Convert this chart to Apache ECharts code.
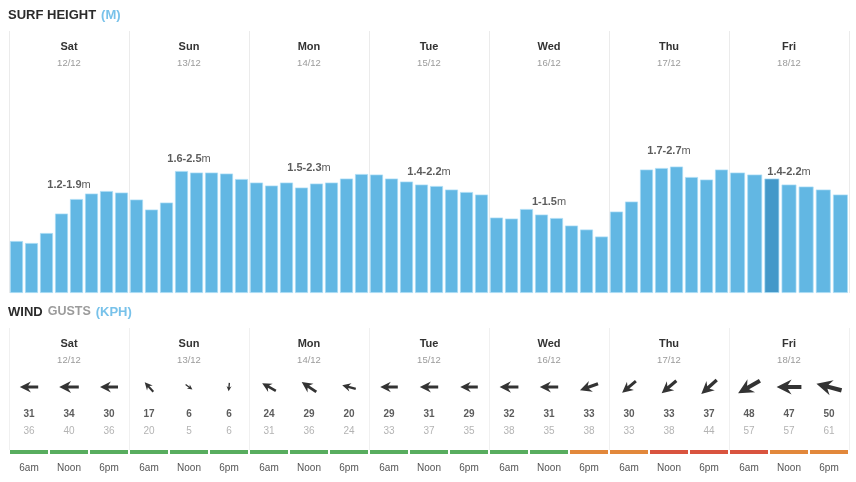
<!DOCTYPE html>
<html><head><meta charset="utf-8">
<script src="https://cdn.jsdelivr.net/npm/echarts@6/dist/echarts.min.js"></script>
<style>html,body{margin:0;padding:0;background:#fff}#c{width:856px;height:482px}</style>
</head><body><div id="c"></div>
<script>
// ---------- data ----------
const days  = ['Sat','Sun','Mon','Tue','Wed','Thu','Fri'];
const dates = ['12/12','13/12','14/12','15/12','16/12','17/12','18/12'];
// surf height (m), 3-hourly
const surfSat = [1.04,1.00,1.20,1.59,1.88,1.99,2.04,2.01];
const surfSun = [1.87,1.67,1.81,2.44,2.41,2.41,2.39,2.28];
const surfMon = [2.21,2.15,2.21,2.11,2.19,2.21,2.29,2.38];
const surfTue = [2.37,2.29,2.23,2.17,2.14,2.07,2.02,1.97];
const surfWed = [1.51,1.49,1.68,1.57,1.50,1.35,1.27,1.13];
const surfThu = [1.63,1.83,2.47,2.50,2.53,2.32,2.27,2.47];
const surfFri = [2.41,2.37,2.29,2.17,2.13,2.07,1.97];
const surfByDay = [surfSat,surfSun,surfMon,surfTue,surfWed,surfThu,surfFri];
const surfHours = ['12am','3am','6am','9am','Noon','3pm','6pm','9pm'];
const currentBar = [6, 2];               // highlighted (now) bar: day, index
const rangeLow  = [1.2,1.6,1.5,1.4,1,1.7,1.4];
const rangeHigh = [1.9,2.5,2.3,2.2,1.5,2.7,2.2];
// wind (kph), 6am / Noon / 6pm for each day
const timeLabels = ['6am','Noon','6pm'];
const windSpeed = [31,34,30, 17,6,6, 24,29,20, 29,31,29, 32,31,33, 30,33,37, 48,47,50];
const windGust  = [36,40,36, 20,5,6, 31,36,24, 33,37,35, 38,35,38, 33,38,44, 57,57,61];
const windFrom  = [90,90,90, 138,306,5, 119,124,105, 90,90,90, 90,90,70, 50,50,48, 60,90,105]; // compass deg wind comes from
const windRating= ['g','g','g','g','g','g','g','g','g','g','g','g','g','g','o','o','r','r','r','o','o'];

// ---------- style ----------
const FONT = '"Liberation Sans", Arial, Helvetica, sans-serif';
const BAR = '#62b7e3', BAR_NOW = '#4398c9';
const ratingColor = {g:'#58ad5f', o:'#e2883b', r:'#d9543f'};
const ARROW = 'path://M0,5.8 L13,5.8 L9.5,0 L24,8 L9.5,16 L13,10.2 L0,10.2 Z';

const slots = [];
days.forEach(d => timeLabels.forEach(t => slots.push(d + ' ' + t)));
const slotTimes = slots.map((s, i) => timeLabels[i % 3]);

const grid = [], xAxis = [], yAxis = [], series = [];
const hidden = {show:false};

function headerAxis(gi, lineColor) {
  return {
    type:'category', gridIndex:gi, data:days, position:'top', boundaryGap:true,
    axisLine:hidden, axisTick:hidden,
    splitLine:{show:true, lineStyle:{color:lineColor, width:1}},
    axisLabel:{inside:true, margin:8, verticalAlign:'top', interval:0,
      formatter:(v,i)=>'{d|'+v+'}\n{s|'+dates[i]+'}',
      rich:{d:{fontFamily:FONT,fontSize:11,fontWeight:'bold',color:'#333',lineHeight:16},
            s:{fontFamily:FONT,fontSize:9.5,color:'#9b9b9b',lineHeight:16}}}
  };
}

// grid 0: surf header + range labels
grid.push({left:9, top:31, width:840, height:262});
xAxis.push(headerAxis(0, '#ebebeb'));
yAxis.push({type:'value', gridIndex:0, min:-0.626, max:5.495, show:false});
series.push({
  type:'scatter', xAxisIndex:0, yAxisIndex:0, symbolSize:1, itemStyle:{color:'transparent'},
  data: rangeHigh.map((h,i)=>[i,h]), silent:true, z:5,
  label:{show:true, position:'inside',
    formatter:p=>'{b|'+rangeLow[p.dataIndex]+'-'+rangeHigh[p.dataIndex]+'}{u|m}',
    rich:{b:{fontFamily:FONT,fontSize:11,fontWeight:'bold',color:'#333'},
          u:{fontFamily:FONT,fontSize:11,color:'#333'}}}
});

// grids 1..7: surf bars per day
surfByDay.forEach((vals, d) => {
  const gi = grid.length;
  grid.push({left:9 + 120*d, top:31, width:120, height:262});
  xAxis.push({type:'category', gridIndex:gi, data:surfHours.slice(0, vals.length), show:false});
  yAxis.push({type:'value', gridIndex:gi, min:0, max:5.24, show:false});
  series.push({
    type:'bar', xAxisIndex:gi, yAxisIndex:gi, barCategoryGap:'13%', silent:true,
    data: vals.map((v,i)=>({value:v, itemStyle:{color:(d===currentBar[0]&&i===currentBar[1])?BAR_NOW:BAR}})),
    itemStyle:{borderColor:'rgba(170,220,245,0.9)', borderWidth:0.8}
  });
});

// grid 8: wind header
let gi = grid.length;
grid.push({left:9, top:328, width:840, height:122});
xAxis.push(headerAxis(gi, '#f0f0f0'));
yAxis.push({type:'value', gridIndex:gi, show:false});

// grid 9: wind arrows
gi = grid.length;
grid.push({left:9, top:373, width:840, height:28});
xAxis.push({type:'category', gridIndex:gi, data:slots, show:false});
yAxis.push({type:'category', gridIndex:gi, data:['dir'], show:false});
series.push({
  type:'scatter', xAxisIndex:gi, yAxisIndex:gi, silent:true,
  data: windFrom.map((f,i)=>{
    const len = 6 + 0.4*windSpeed[i];
    return {value:[i,'dir'], symbol:ARROW, symbolSize:[len, len*0.6], symbolRotate: 90 - (f+180),
            itemStyle:{color:'#000'}};
  })
});

// grid 10: speed & gust numbers
gi = grid.length;
grid.push({left:9, top:406, width:840, height:34});
xAxis.push({type:'category', gridIndex:gi, data:slots, show:false});
yAxis.push({type:'category', gridIndex:gi, data:['speed','gust'], inverse:true, show:false});
[['speed', windSpeed, '#333', 'bold'], ['gust', windGust, '#a0a0a0', 'normal']].forEach(([row, arr, col, fw]) => {
  series.push({
    type:'scatter', xAxisIndex:gi, yAxisIndex:gi, symbolSize:1, itemStyle:{color:'transparent'}, silent:true,
    data: arr.map((v,i)=>[i,row,v]),
    label:{show:true, position:'inside', formatter:p=>String(p.value[2]),
      fontFamily:FONT, fontSize:10, fontWeight:fw, color:col}
  });
});

// grid 11: rating bars + time labels
gi = grid.length;
grid.push({left:9, top:450, width:840, height:4});
xAxis.push({type:'category', gridIndex:gi, data:slots, position:'bottom',
  axisLine:hidden, axisTick:hidden,
  axisLabel:{interval:0, margin:9, fontFamily:FONT, fontSize:10, color:'#555',
    formatter:(v,i)=>slotTimes[i]}});
yAxis.push({type:'value', gridIndex:gi, min:0, max:1, show:false});
series.push({
  type:'bar', xAxisIndex:gi, yAxisIndex:gi, barCategoryGap:'5%', silent:true,
  data: windRating.map(r=>({value:1, itemStyle:{color:ratingColor[r]}}))
});

const chart = echarts.init(document.getElementById('c'), null, {renderer:'canvas'});
chart.setOption({
  animation:false,
  backgroundColor:'#fff',
  title:[
    {text:'{a|SURF HEIGHT} {b|(M)}', left:8, top:6, padding:0,
     textStyle:{rich:{a:{fontFamily:FONT,fontSize:13,fontWeight:'bold',color:'#2b2b2b'},
                      b:{fontFamily:FONT,fontSize:13,color:'#78c2ea'}}}},
    {text:'{a|WIND} {g|GUSTS} {b|(KPH)}', left:8, top:303, padding:0,
     textStyle:{rich:{a:{fontFamily:FONT,fontSize:13,fontWeight:'bold',color:'#2b2b2b'},
                      g:{fontFamily:FONT,fontSize:12.5,color:'#9b9b9b'},
                      b:{fontFamily:FONT,fontSize:13,color:'#78c2ea'}}}}
  ],
  grid, xAxis, yAxis, series
});
</script>
</body></html>
